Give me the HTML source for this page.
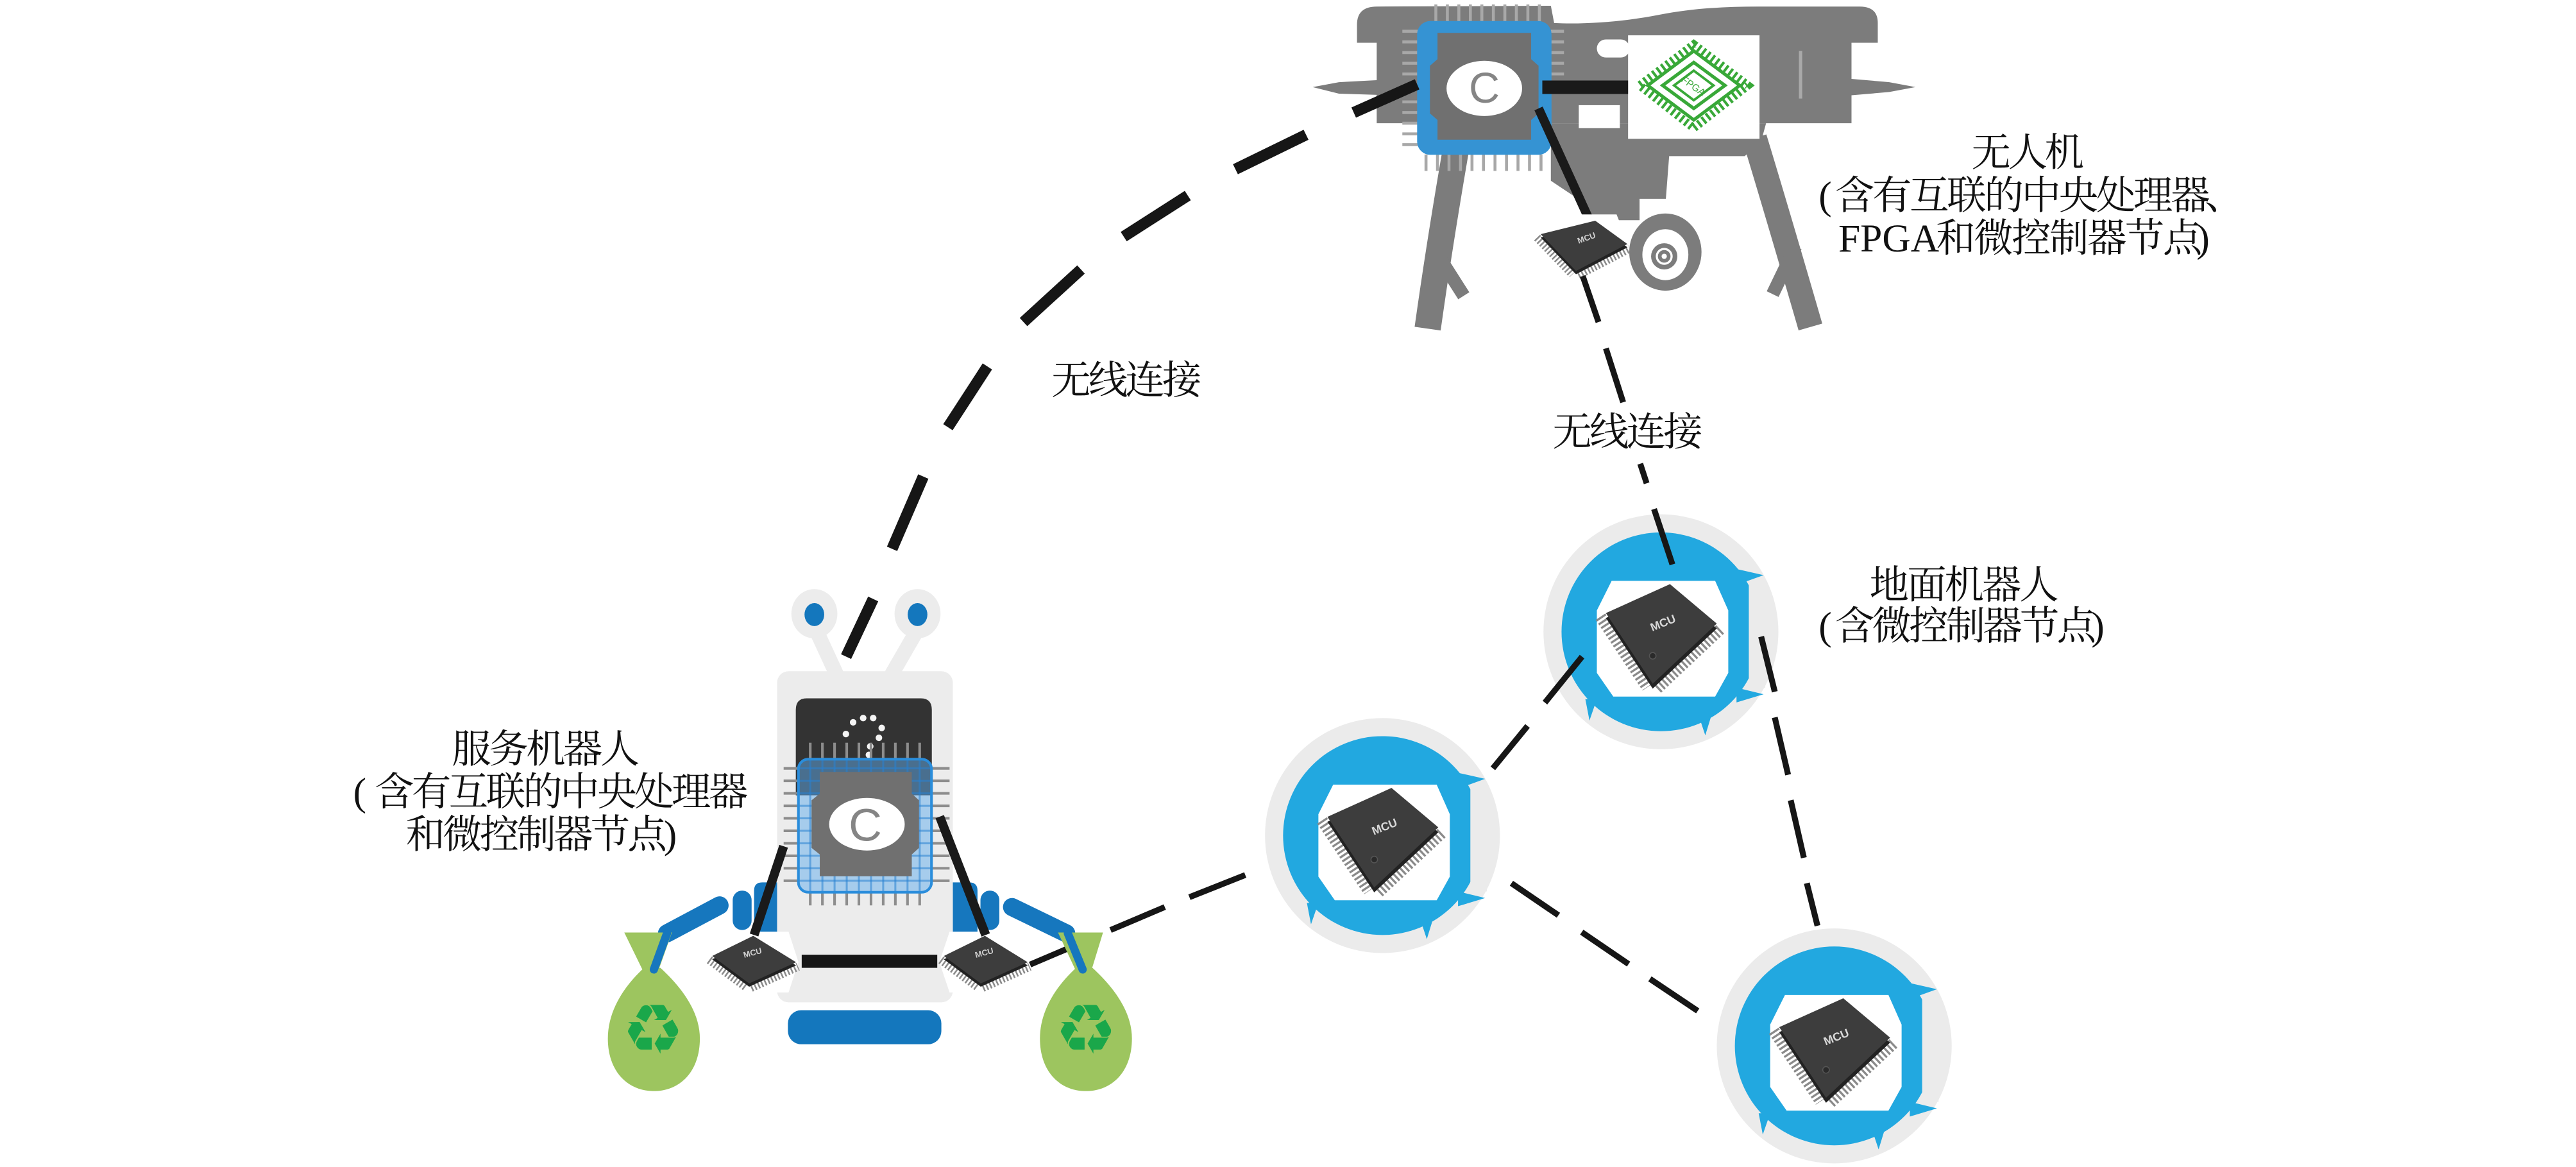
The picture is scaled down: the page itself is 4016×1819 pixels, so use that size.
<!DOCTYPE html>
<html><head><meta charset="utf-8">
<style>
html,body{margin:0;padding:0;background:#fff;}
svg{display:block;}
text{font-family:"Liberation Serif","Noto Serif CJK SC",serif;}
.s{font-family:"Liberation Sans",sans-serif;}
.d{font-family:"DejaVu Sans",sans-serif;}
</style></head>
<body>
<svg xmlns="http://www.w3.org/2000/svg" xmlns:xlink="http://www.w3.org/1999/xlink" width="4016" height="1819" viewBox="0 0 1568 710.2" preserveAspectRatio="none">
<defs>
 <g id="gr">
  <circle r="71.5" fill="#ebebeb"/>
  <circle r="60.5" fill="#22a8e0"/>
  <rect x="53.5" y="-31" width="10" height="65" fill="#ebebeb"/>
  <g fill="#22a8e0">
   <polygon points="47,-38 62.5,-34.5 50,-30"/>
   <polygon points="46,34 62.5,38 46,43"/>
   <polygon points="-46,41 -43.5,54 -39,41"/>
   <polygon points="23,51 27,63 31,50"/>
  </g>
  <polygon points="-30,-31 33,-31 41,-13 41,25 33,39.4 -29,39.4 -39,25 -39,-13" fill="#fff"/>
  <g stroke="#8a8a8a" stroke-width="7" stroke-dasharray="1.3 1.4">
   <line x1="-36.8" y1="-9.2" x2="-8.3" y2="33.8"/>
   <line x1="-2.3" y1="34.5" x2="36.7" y2="-2.1"/>
  </g>
  <polygon points="5.5,-26 34,-2 -5,34.6 -33.5,-8.4" fill="#222"/>
  <polygon points="5.5,-29 34,-5 -5,31.6 -33.5,-11.4" fill="#3d3d3d"/>
  <text class="s" x="1" y="-3" font-size="7" font-weight="bold" fill="#d8d8d8" text-anchor="middle" transform="rotate(-22 1 -6)">MCU</text>
  <circle cx="-5" cy="14.6" r="2" fill="#2a2a2a" stroke="#555" stroke-width="0.6"/>
 </g>
 <g id="sm">
  <g stroke="#8a8a8a" stroke-width="5" stroke-dasharray="1 1.2">
   <line x1="-26.3" y1="0.7" x2="-3.8" y2="17.4"/>
   <line x1="-0.8" y1="17.7" x2="27.8" y2="4.8"/>
  </g>
  <polygon points="0.5,-12 26.6,4 -2,17 -24.5,0.3" fill="#222"/>
  <polygon points="0.5,-14 26.6,2.1 -2,15 -24.5,-1.7" fill="#3d3d3d"/>
  <text class="s" x="0" y="-2" font-size="5" font-weight="bold" fill="#d0d0d0" text-anchor="middle" transform="rotate(-15 0 -4)">MCU</text>
 </g>
</defs>

<!-- ================= DRONE ================= -->
<g fill="#7c7c7c">
 <path d="M826,26 L826,15 Q826,4 838,4 L944,3.5 L946,14 C965,15 990,13 1010,9 C1030,5 1050,4 1070,4 L1132,4 Q1143,4 1143,14 L1143,26 Z"/>
 <rect x="838" y="18" width="289" height="57"/>
 <polygon points="799,53 815,50 862,47.5 862,58.5 815,57"/>
 <polygon points="1127,48 1150,50 1166,53 1150,56 1127,58"/>
 <polygon points="944,75 1075,75 1072,86 1062,95 1016,95 1014,121 998,121 998,134 966,134 962,122 944,110"/>
</g>
<g stroke="#7c7c7c" fill="none">
 <path d="M886,92 Q876,150 869,200" stroke-width="16"/>
 <path d="M877,158 L891,180" stroke-width="8"/>
 <path d="M1068,84 Q1082,130 1102,199" stroke-width="15"/>
 <path d="M1093,150 L1079,179" stroke-width="8"/>
</g>
<!-- white cutouts -->
<rect x="991" y="21.5" width="80" height="63" fill="#fff"/>
<rect x="972" y="24" width="20" height="11" rx="5.5" fill="#fff"/>
<rect x="961" y="64" width="25" height="14" fill="#fff"/>
<line x1="1096" y1="31" x2="1096" y2="60" stroke="#a9a9a9" stroke-width="2"/>

<!-- FPGA icon -->
<g fill="none" stroke="#38a838">
 <polygon points="1031,27 1064,52 1031,78 998,52" stroke-width="5" stroke-dasharray="1.6 1.8"/>
 <polygon points="1031,31 1059,52 1031,73 1003,52" stroke-width="2"/>
 <polygon points="1031,38 1050,52 1031,66 1012,52" stroke-width="2"/>
 <polygon points="1031,43 1043,52 1031,61 1019,52" stroke-width="1.5"/>
</g>
<text class="s" x="1031" y="54.5" font-size="6" fill="#38a838" text-anchor="middle" transform="rotate(35 1031 52)">FPGA</text>

<!-- drone CPU pins -->
<g stroke="#a8a8a8" stroke-width="1.8">
 <line x1="874" y1="2.7" x2="874" y2="13"/><line x1="881" y1="2.7" x2="881" y2="13"/><line x1="888" y1="2.7" x2="888" y2="13"/><line x1="895" y1="2.7" x2="895" y2="13"/><line x1="902" y1="2.7" x2="902" y2="13"/><line x1="909" y1="2.7" x2="909" y2="13"/><line x1="916" y1="2.7" x2="916" y2="13"/><line x1="923" y1="2.7" x2="923" y2="13"/><line x1="930" y1="2.7" x2="930" y2="13"/><line x1="937" y1="2.7" x2="937" y2="13"/>
 <line x1="868" y1="94" x2="868" y2="104"/><line x1="875" y1="94" x2="875" y2="104"/><line x1="882" y1="94" x2="882" y2="104"/><line x1="889" y1="94" x2="889" y2="104"/><line x1="896" y1="94" x2="896" y2="104"/><line x1="903" y1="94" x2="903" y2="104"/><line x1="910" y1="94" x2="910" y2="104"/><line x1="917" y1="94" x2="917" y2="104"/><line x1="924" y1="94" x2="924" y2="104"/><line x1="931" y1="94" x2="931" y2="104"/><line x1="938" y1="94" x2="938" y2="104"/>
 <line x1="853.6" y1="19" x2="863" y2="19"/><line x1="853.6" y1="25.5" x2="863" y2="25.5"/><line x1="853.6" y1="32" x2="863" y2="32"/><line x1="853.6" y1="38.5" x2="863" y2="38.5"/><line x1="853.6" y1="45" x2="863" y2="45"/><line x1="853.6" y1="62" x2="863" y2="62"/><line x1="853.6" y1="68.5" x2="863" y2="68.5"/><line x1="853.6" y1="75" x2="863" y2="75"/><line x1="853.6" y1="81.5" x2="863" y2="81.5"/><line x1="853.6" y1="88" x2="863" y2="88"/>
 <line x1="944" y1="19" x2="952" y2="19"/><line x1="944" y1="25.5" x2="952" y2="25.5"/><line x1="944" y1="32" x2="952" y2="32"/><line x1="944" y1="38.5" x2="952" y2="38.5"/><line x1="944" y1="45" x2="952" y2="45"/>
</g>
<!-- drone CPU -->
<rect x="862.6" y="12.8" width="81.8" height="81.4" rx="8" fill="#3593d3"/>
<polygon points="875,20 932,20 932,36 936.5,40 936.5,69 932,73 932,85 875,85 875,73 870.4,69 870.4,40 875,36" fill="#707070"/>
<ellipse cx="903.5" cy="53.8" rx="23" ry="16.8" fill="#fff"/>
<text class="s" x="903.5" y="62.5" font-size="26" text-anchor="middle" fill="#858585">C</text>

<!-- drone black links -->
<line x1="938.8" y1="53.1" x2="991" y2="53.1" stroke="#1a1a1a" stroke-width="8.2"/>
<line x1="936.5" y1="66" x2="967.5" y2="134" stroke="#1a1a1a" stroke-width="5.5"/>

<!-- camera -->
<ellipse cx="1013.7" cy="153.4" rx="22" ry="23.5" fill="#7c7c7c"/>
<ellipse cx="1013.7" cy="155" rx="14" ry="15.5" fill="#fff"/>
<circle cx="1013" cy="156" r="8" fill="#7c7c7c"/>
<circle cx="1013" cy="156" r="4.5" fill="none" stroke="#fff" stroke-width="1.3"/>
<circle cx="1013" cy="156" r="1.6" fill="#fff"/>

<!-- drone MCU -->
<polygon points="944,130.5 984,130.5 991.8,150 984,169.4 944,169.4 934.6,150" fill="#fff"/>
<g transform="translate(964.6,149.5)">
 <g stroke="#8a8a8a" stroke-width="5" stroke-dasharray="1 1.2">
  <line x1="-29" y1="-4.9" x2="-7.5" y2="17.5"/>
  <line x1="-3.9" y1="18" x2="27.4" y2="1.7"/>
 </g>
 <polygon points="6.4,-13.2 26,1 -5.3,17.4 -26.8,-5" fill="#222"/>
 <polygon points="6.4,-15.2 26,-1 -5.3,15.4 -26.8,-7" fill="#3d3d3d"/>
 <text class="s" x="1" y="-3" font-size="5" font-weight="bold" fill="#d0d0d0" text-anchor="middle" transform="rotate(-20 1 -5)">MCU</text>
</g>

<!-- ================= GROUND ROBOTS ================= -->
<use xlink:href="#gr" href="#gr" transform="translate(1011,384.5)"/>
<use xlink:href="#gr" href="#gr" transform="translate(841.5,508.5)"/>
<use xlink:href="#gr" href="#gr" transform="translate(1116.5,636.5)"/>

<!-- ================= SERVICE ROBOT ================= -->
<g stroke="#ececec" stroke-width="9" stroke-linecap="round">
 <line x1="497" y1="384" x2="509" y2="410"/>
 <line x1="558" y1="384" x2="543" y2="410"/>
</g>
<ellipse cx="495.7" cy="373.5" rx="14" ry="15" fill="#ececec"/>
<ellipse cx="558.5" cy="373.5" rx="14" ry="15" fill="#ececec"/>
<ellipse cx="495.7" cy="374" rx="6" ry="7" fill="#1477bd"/>
<ellipse cx="558.5" cy="374" rx="6" ry="7" fill="#1477bd"/>

<g fill="#1677be">
 <path d="M459,568 L459,542 Q459,537 464,537 L474,537 L474,568 Z"/>
 <path d="M595,568 L595,542 Q595,537 590,537 L580,537 L580,568 Z"/>
 <rect x="446" y="542" width="11.5" height="24" rx="5.7"/>
 <rect x="596.8" y="542" width="11.5" height="24" rx="5.7"/>
</g>
<g stroke="#1677be" stroke-linecap="round">
 <line x1="438" y1="551" x2="406" y2="568" stroke-width="11"/>
 <line x1="616" y1="552" x2="649" y2="568" stroke-width="11"/>
</g>

<rect x="473" y="408.5" width="107" height="201.5" rx="7" fill="#ececec"/>
<path d="M484.4,484 L484.4,432 Q484.4,425 491,425 L560.5,425 Q567.2,425 567.2,432 L567.2,484 Z" fill="#333"/>
<g fill="#f4f4f4">
 <circle cx="514.9" cy="446.7" r="2"/><circle cx="519.3" cy="439.6" r="2"/><circle cx="525.4" cy="437" r="2"/><circle cx="531.5" cy="437" r="2"/><circle cx="536.7" cy="443" r="2"/><circle cx="535" cy="449" r="2"/><circle cx="529.7" cy="454.2" r="2"/><circle cx="528.9" cy="459.4" r="2"/>
</g>

<!-- service chip pins -->
<g stroke="#8d8d8d" stroke-width="1.6">
 <line x1="493.2" y1="452" x2="493.2" y2="462"/><line x1="500.6" y1="452" x2="500.6" y2="462"/><line x1="508" y1="452" x2="508" y2="462"/><line x1="515.4" y1="452" x2="515.4" y2="462"/><line x1="522.8" y1="452" x2="522.8" y2="462"/><line x1="530.2" y1="452" x2="530.2" y2="462"/><line x1="537.6" y1="452" x2="537.6" y2="462"/><line x1="545" y1="452" x2="545" y2="462"/><line x1="552.4" y1="452" x2="552.4" y2="462"/><line x1="559.8" y1="452" x2="559.8" y2="462"/>
 <line x1="493.2" y1="543" x2="493.2" y2="551"/><line x1="500.6" y1="543" x2="500.6" y2="551"/><line x1="508" y1="543" x2="508" y2="551"/><line x1="515.4" y1="543" x2="515.4" y2="551"/><line x1="522.8" y1="543" x2="522.8" y2="551"/><line x1="530.2" y1="543" x2="530.2" y2="551"/><line x1="537.6" y1="543" x2="537.6" y2="551"/><line x1="545" y1="543" x2="545" y2="551"/><line x1="552.4" y1="543" x2="552.4" y2="551"/><line x1="559.8" y1="543" x2="559.8" y2="551"/>
 <line x1="477" y1="467.6" x2="486" y2="467.6"/><line x1="477" y1="475.2" x2="486" y2="475.2"/><line x1="477" y1="482.8" x2="486" y2="482.8"/><line x1="477" y1="490.4" x2="486" y2="490.4"/><line x1="477" y1="498" x2="486" y2="498"/><line x1="477" y1="505.6" x2="486" y2="505.6"/><line x1="477" y1="513.2" x2="486" y2="513.2"/><line x1="477" y1="520.8" x2="486" y2="520.8"/><line x1="477" y1="528.4" x2="486" y2="528.4"/><line x1="477" y1="536" x2="486" y2="536"/>
 <line x1="567" y1="467.6" x2="578" y2="467.6"/><line x1="567" y1="475.2" x2="578" y2="475.2"/><line x1="567" y1="482.8" x2="578" y2="482.8"/><line x1="567" y1="490.4" x2="578" y2="490.4"/><line x1="567" y1="498" x2="578" y2="498"/><line x1="567" y1="505.6" x2="578" y2="505.6"/><line x1="567" y1="513.2" x2="578" y2="513.2"/><line x1="567" y1="520.8" x2="578" y2="520.8"/><line x1="567" y1="528.4" x2="578" y2="528.4"/><line x1="567" y1="536" x2="578" y2="536"/>
</g>
<rect x="486" y="462" width="81" height="81" rx="6" fill="rgba(95,172,235,0.5)"/>
<g stroke="rgba(40,130,210,0.55)" stroke-width="1.2">
 <line x1="493.2" y1="462" x2="493.2" y2="543"/><line x1="500.6" y1="462" x2="500.6" y2="543"/><line x1="508" y1="462" x2="508" y2="543"/><line x1="515.4" y1="462" x2="515.4" y2="543"/><line x1="522.8" y1="462" x2="522.8" y2="543"/><line x1="530.2" y1="462" x2="530.2" y2="543"/><line x1="537.6" y1="462" x2="537.6" y2="543"/><line x1="545" y1="462" x2="545" y2="543"/><line x1="552.4" y1="462" x2="552.4" y2="543"/><line x1="559.8" y1="462" x2="559.8" y2="543"/>
 <line x1="486" y1="467.6" x2="567" y2="467.6"/><line x1="486" y1="475.2" x2="567" y2="475.2"/><line x1="486" y1="482.8" x2="567" y2="482.8"/><line x1="486" y1="490.4" x2="567" y2="490.4"/><line x1="486" y1="498" x2="567" y2="498"/><line x1="486" y1="505.6" x2="567" y2="505.6"/><line x1="486" y1="513.2" x2="567" y2="513.2"/><line x1="486" y1="520.8" x2="567" y2="520.8"/><line x1="486" y1="528.4" x2="567" y2="528.4"/><line x1="486" y1="536" x2="567" y2="536"/>
</g>
<rect x="486" y="462" width="81" height="81" rx="6" fill="none" stroke="#2a8ddb" stroke-width="1.6"/>
<polygon points="499,469.8 555,469.8 555,483 559.4,487 559.4,516 555,520 555,533.3 499,533.3 499,520 494,516 494,487 499,483" fill="#707070"/>
<ellipse cx="527.7" cy="501.6" rx="23" ry="16" fill="#fff"/>
<text class="s" x="526.7" y="511.7" font-size="28" text-anchor="middle" fill="#858585">C</text>

<!-- MCU backgrounds, belt -->
<polygon points="438,567 480,567 486,585.5 480,604 438,604 431,585.5" fill="#fff"/>
<polygon points="578,567 621,567 627.8,585.5 621,604 578,604 571.8,585.5" fill="#fff"/>
<rect x="488" y="581" width="82.5" height="8" fill="#161616"/>
<use xlink:href="#sm" href="#sm" transform="translate(458,583.5)"/>
<use xlink:href="#sm" href="#sm" transform="translate(599,583.5)"/>
<g stroke="#1a1a1a" stroke-width="5.5">
 <line x1="477" y1="515" x2="459" y2="569"/>
 <line x1="572" y1="497" x2="600" y2="569"/>
</g>

<!-- base pill -->
<rect x="479.6" y="614.8" width="93.4" height="20.7" rx="8" fill="#1477bd"/>

<!-- ================= DASHED LINKS ================= -->
<g stroke="#161616" stroke-width="6.8">
 <line x1="824" y1="68.5" x2="862.6" y2="51.3"/>
 <line x1="752" y1="103" x2="795" y2="82"/>
 <line x1="684" y1="144" x2="723" y2="119"/>
 <line x1="623" y1="196" x2="658" y2="164"/>
 <line x1="577" y1="260" x2="601" y2="223"/>
 <line x1="543" y1="334" x2="562" y2="290"/>
 <line x1="515" y1="399.6" x2="531.5" y2="364.5"/>
</g>
<g stroke="#161616" stroke-width="3.6">
 <line x1="963.4" y1="168" x2="973" y2="196"/>
 <line x1="977.5" y1="212" x2="988" y2="244.8"/>
 <line x1="998.4" y1="282.2" x2="1002.3" y2="294.1"/>
 <line x1="1006.8" y1="309.8" x2="1018" y2="343.5"/>
 <line x1="1072" y1="387.4" x2="1080.3" y2="421"/>
 <line x1="1080.3" y1="436.6" x2="1088.4" y2="471.5"/>
 <line x1="1090" y1="487" x2="1098" y2="522"/>
 <line x1="1099.8" y1="537.5" x2="1106.3" y2="563.4"/>
 <line x1="963" y1="399.6" x2="940.4" y2="427.6"/>
 <line x1="929.8" y1="441.8" x2="908.7" y2="467.6"/>
 <line x1="920" y1="537.5" x2="948.6" y2="557"/>
 <line x1="962.8" y1="567.3" x2="991.3" y2="586.7"/>
 <line x1="1004.3" y1="595.7" x2="1033.4" y2="615.2"/>
 <line x1="627" y1="587" x2="660" y2="573"/>
 <line x1="676" y1="566" x2="709" y2="552"/>
 <line x1="724" y1="546" x2="758" y2="532.5"/>
</g>

<!-- ================= BAGS ================= -->
<g fill="#9dc55f">
 <polygon points="380,567.5 409,567.5 401,590 391,590"/>
 <path d="M392,589 C380,600 370,615 370,632 C370,652 382,664 398,664 C414,664 426,652 426,632 C426,615 414,600 402,589 Z"/>
 <polygon points="644,567.5 671.4,567.5 664.5,590 654.5,590"/>
 <path d="M655,589 C643,600 633,615 633,632 C633,652 645,664 661,664 C677,664 689,652 689,632 C689,615 677,600 665,589 Z"/>
</g>
<g stroke="#1677be" stroke-width="5" stroke-linecap="round">
 <line x1="406" y1="568" x2="398" y2="590"/>
 <line x1="650" y1="568" x2="659" y2="590"/>
</g>
<text class="d" x="397.5" y="641" font-size="42" fill="#1aa74a" text-anchor="middle">♻</text>
<text class="d" x="661" y="641" font-size="42" fill="#1aa74a" text-anchor="middle">♻</text>

<!-- ================= LABELS ================= -->
<g font-size="24" fill="#111">
 <text x="1200 1222.3 1244.6" y="101">无人机</text>
 <text x="1107 1117 1139.7 1162.4 1185.1 1207.8 1230.5 1253.2 1275.9 1298.6 1321.3 1342" y="127">(含有互联的中央处理器、</text>
 <text x="1119" y="153">FPGA<tspan x="1178.5 1201.5 1224.5 1247.5 1270.5 1293.5 1316.5 1337">和微控制器节点)</tspan></text>

 <text x="1138 1160.8 1183.6 1206.4 1229.2" y="364">地面机器人</text>
 <text x="1107 1117 1139.5 1162 1184.5 1207 1229.5 1252 1273" y="389">(含微控制器节点)</text>

 <text x="275 297.6 320.2 342.8 365.4" y="464">服务机器人</text>
 <text x="215 228 250.6 273.2 295.8 318.4 341 363.6 386.2 408.8 431.4" y="490">(含有互联的中央处理器</text>
 <text x="247 269.5 292 314.5 337 359.5 382 404" y="516">和微控制器节点)</text>

 <text x="640 662.5 685 707.5" y="239.5">无线连接</text>
 <text x="945 967.5 990 1012.5" y="271">无线连接</text>
</g>
</svg>
</body></html>
